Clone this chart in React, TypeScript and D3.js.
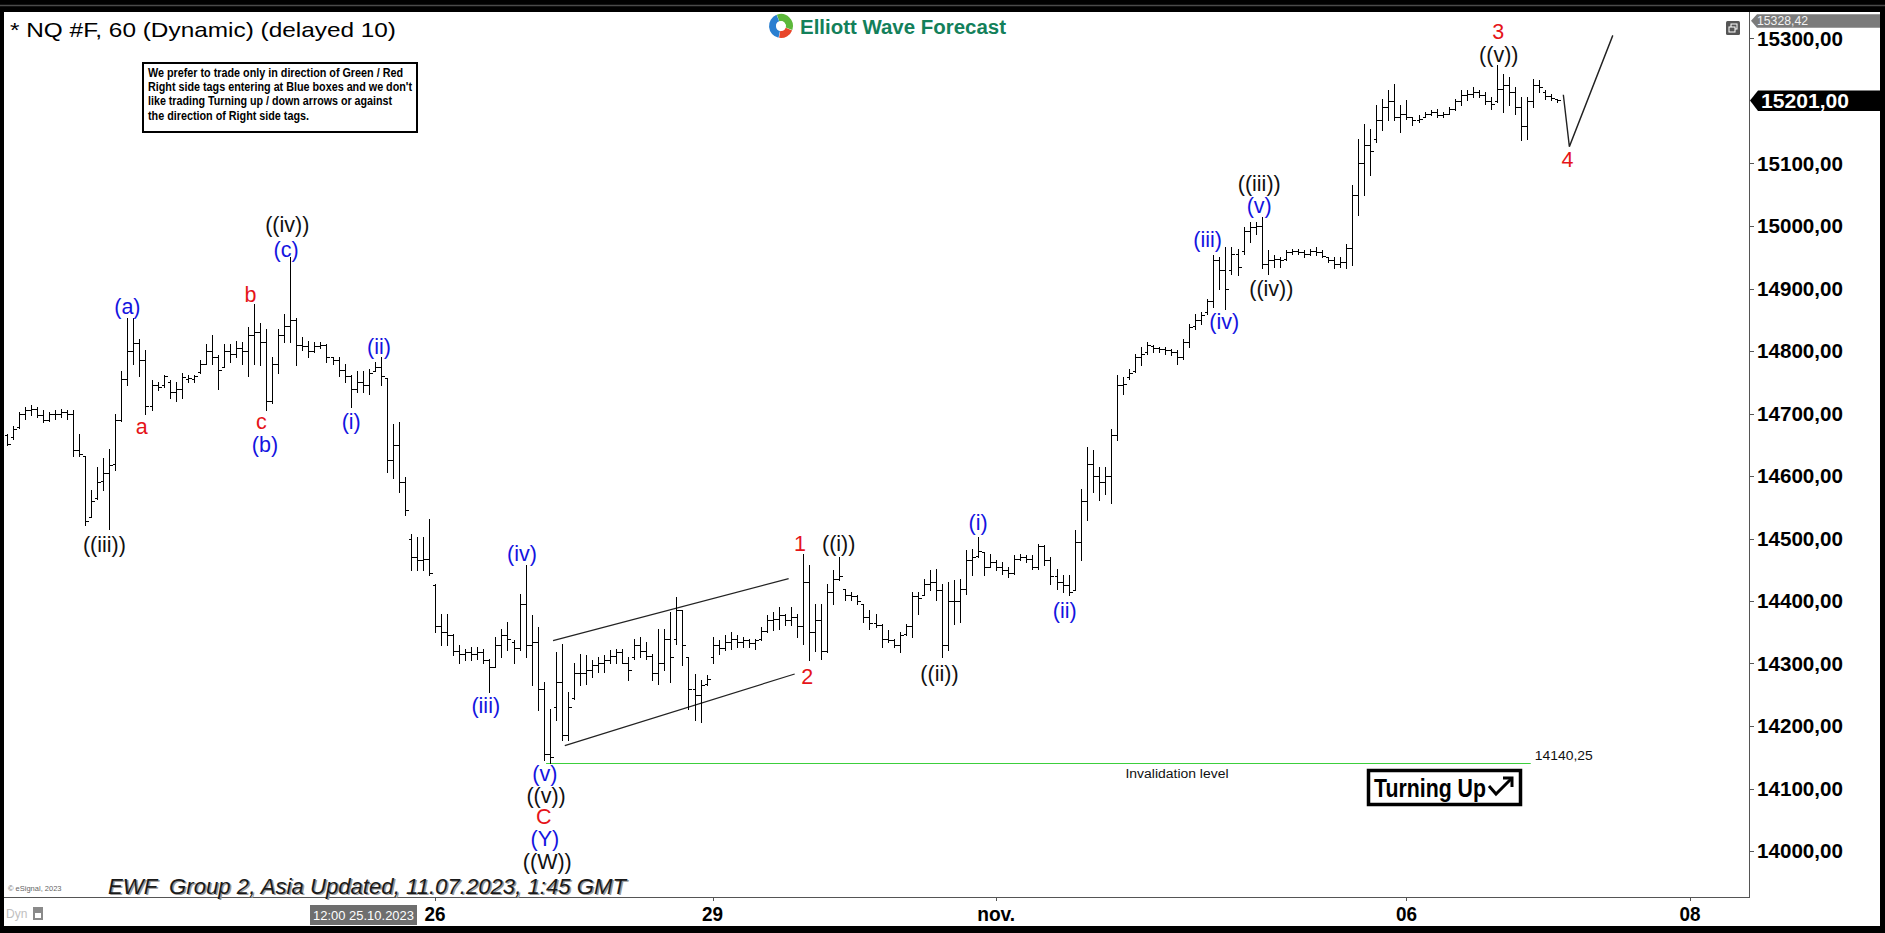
import React from "react";
import * as d3 from "d3";

const W = 1885;
const H = 933;

// ---- hourly OHLC bars (NQ #F, 60 min) ----
const HIGH = [
  14668, 14680, 14703, 14711, 14714, 14711, 14705, 14703, 14705, 14708,
  14705, 14705, 14668, 14632, 14578, 14615, 14629, 14643, 14700, 14768,
  14853, 14853, 14819, 14802, 14754, 14751, 14762, 14754, 14751, 14765,
  14762, 14762, 14785, 14811, 14825, 14794, 14811, 14811, 14816, 14814,
  14839, 14876, 14845, 14836, 14791, 14836, 14859, 14950, 14853, 14822,
  14816, 14814, 14814, 14811, 14791, 14791, 14779, 14762, 14768, 14768,
  14771, 14782, 14791, 14757, 14683, 14686, 14598, 14508, 14503, 14503,
  14532, 14428, 14380, 14380, 14348, 14330, 14324, 14327, 14327, 14324,
  14308, 14343, 14356, 14367, 14338, 14412, 14458, 14378, 14359, 14271,
  14228, 14319, 14332, 14255, 14300, 14316, 14314, 14306, 14311, 14314,
  14322, 14324, 14324, 14311, 14340, 14343, 14335, 14316, 14356, 14356,
  14383, 14407, 14386, 14311, 14284, 14274, 14282, 14343, 14338, 14346,
  14351, 14346, 14343, 14340, 14340, 14359, 14378, 14383, 14391, 14380,
  14391, 14380, 14476, 14458, 14396, 14396, 14428, 14450, 14471, 14420,
  14415, 14410, 14396, 14386, 14380, 14364, 14354, 14340, 14351, 14364,
  14415, 14415, 14436, 14450, 14452, 14428, 14431, 14434, 14436, 14482,
  14484, 14503, 14479, 14476, 14466, 14463, 14455, 14474, 14476, 14474,
  14474, 14492, 14490, 14471, 14452, 14442, 14442, 14514, 14580, 14647,
  14642, 14615, 14615, 14676, 14762, 14759, 14772, 14796, 14807, 14815,
  14810, 14807, 14807, 14804, 14802, 14820, 14844, 14860, 14863, 14884,
  14954, 14951, 14967, 14967, 14964, 14999, 15007, 15007, 15015, 14962,
  14954, 14951, 14962, 14964, 14964, 14962, 14964, 14967, 14962, 14951,
  14951, 14951, 14972, 15066, 15140, 15164, 15156, 15194, 15204, 15218,
  15228, 15194, 15202, 15175, 15178, 15183, 15186, 15188, 15183, 15191,
  15204, 15218, 15218, 15223, 15218, 15215, 15207, 15258, 15244, 15239,
  15223, 15207, 15207, 15236, 15234, 15218, 15212, 15204,
];
const LOW = [
  14649, 14660, 14677, 14691, 14697, 14694, 14686, 14688, 14691, 14694,
  14691, 14632, 14632, 14521, 14535, 14563, 14578, 14515, 14609, 14688,
  14745, 14779, 14760, 14700, 14706, 14737, 14742, 14725, 14720, 14725,
  14751, 14751, 14765, 14779, 14779, 14740, 14774, 14782, 14791, 14779,
  14760, 14779, 14777, 14705, 14717, 14765, 14814, 14814, 14777, 14802,
  14791, 14799, 14805, 14782, 14779, 14760, 14751, 14711, 14734, 14734,
  14731, 14768, 14745, 14606, 14597, 14575, 14538, 14450, 14450, 14450,
  14442, 14351, 14330, 14330, 14314, 14300, 14306, 14306, 14308, 14300,
  14255, 14295, 14311, 14322, 14300, 14322, 14311, 14266, 14226, 14146,
  14140.25, 14210, 14178, 14178, 14244, 14266, 14268, 14279, 14287, 14287,
  14300, 14300, 14300, 14274, 14308, 14311, 14308, 14274, 14268, 14290,
  14271, 14332, 14298, 14228, 14210, 14207, 14266, 14300, 14316, 14322,
  14324, 14327, 14327, 14327, 14324, 14338, 14351, 14354, 14356, 14362,
  14362, 14343, 14332, 14306, 14320, 14307, 14319, 14396, 14434, 14402,
  14402, 14396, 14367, 14356, 14359, 14327, 14335, 14327, 14319, 14346,
  14343, 14380, 14410, 14418, 14402, 14311, 14322, 14364, 14367, 14412,
  14442, 14471, 14442, 14455, 14450, 14444, 14439, 14444, 14466, 14463,
  14452, 14452, 14458, 14428, 14420, 14415, 14410, 14418, 14466, 14530,
  14575, 14562, 14572, 14556, 14658, 14732, 14756, 14767, 14778, 14796,
  14799, 14799, 14796, 14794, 14780, 14788, 14807, 14836, 14844, 14860,
  14871, 14900, 14868, 14924, 14922, 14956, 14975, 14988, 14932, 14924,
  14935, 14935, 14946, 14956, 14956, 14951, 14954, 14954, 14951, 14943,
  14932, 14935, 14932, 14938, 15018, 15050, 15082, 15135, 15154, 15170,
  15170, 15151, 15172, 15162, 15167, 15175, 15178, 15175, 15175, 15180,
  15186, 15194, 15202, 15207, 15207, 15196, 15188, 15199, 15183, 15194,
  15180, 15138, 15140, 15191, 15215, 15204, 15202, 15199,
];
const OPEN = [
  14665, 14662, 14678, 14700, 14705, 14708, 14697, 14690, 14699, 14700,
  14703, 14700, 14642, 14635, 14535, 14565, 14592, 14605, 14620, 14690,
  14755, 14800, 14812, 14785, 14712, 14745, 14745, 14750, 14735, 14740,
  14755, 14756, 14766, 14780, 14800, 14790, 14775, 14800, 14795, 14805,
  14800, 14825, 14830, 14815, 14720, 14780, 14825, 14840, 14850, 14810,
  14808, 14800, 14808, 14810, 14790, 14785, 14770, 14760, 14740, 14750,
  14745, 14768, 14775, 14757, 14625, 14650, 14590, 14500, 14470, 14465,
  14468, 14425, 14360, 14350, 14345, 14320, 14315, 14318, 14315, 14318,
  14305, 14295, 14330, 14345, 14335, 14325, 14395, 14330, 14335, 14260,
  14155, 14230, 14270, 14185, 14245, 14285, 14285, 14290, 14298, 14300,
  14305, 14312, 14318, 14300, 14310, 14330, 14320, 14312, 14285, 14300,
  14340, 14340, 14385, 14311, 14260, 14250, 14268, 14310, 14330, 14325,
  14335, 14340, 14335, 14337, 14333, 14340, 14352, 14370, 14372, 14378,
  14370, 14375, 14360, 14430, 14350, 14370, 14320, 14415, 14435, 14420,
  14410, 14408, 14396, 14375, 14365, 14362, 14340, 14338, 14330, 14348,
  14360, 14408, 14410, 14428, 14430, 14418, 14330, 14400, 14400, 14420,
  14465, 14472, 14479, 14455, 14462, 14455, 14450, 14445, 14468, 14470,
  14468, 14455, 14488, 14465, 14440, 14430, 14425, 14418, 14495, 14560,
  14620, 14600, 14590, 14600, 14665, 14745, 14758, 14768, 14790, 14798,
  14808, 14805, 14803, 14802, 14798, 14790, 14815, 14840, 14850, 14862,
  14880, 14945, 14930, 14930, 14955, 14960, 14992, 14998, 15000, 14940,
  14945, 14948, 14948, 14958, 14960, 14958, 14955, 14960, 14958, 14950,
  14945, 14940, 14942, 14965, 15050, 15100, 15130, 15140, 15170, 15190,
  15200, 15175, 15180, 15175, 15170, 15175, 15180, 15182, 15178, 15180,
  15188, 15200, 15210, 15212, 15215, 15210, 15200, 15200, 15220, 15225,
  15215, 15190, 15160, 15200, 15225, 15215, 15208, 15205,
];
const CLOSE = [
  14652, 14676, 14700, 14705, 14708, 14697, 14690, 14699, 14700, 14703,
  14700, 14642, 14635, 14528, 14560, 14590, 14605, 14618, 14690, 14755,
  14800, 14812, 14785, 14712, 14745, 14742, 14760, 14735, 14740, 14758,
  14757, 14760, 14780, 14800, 14790, 14770, 14800, 14795, 14805, 14800,
  14825, 14830, 14815, 14720, 14780, 14825, 14840, 14850, 14810, 14808,
  14800, 14808, 14810, 14790, 14785, 14770, 14760, 14740, 14750, 14745,
  14765, 14775, 14760, 14625, 14650, 14590, 14545, 14470, 14465, 14468,
  14445, 14360, 14350, 14345, 14320, 14315, 14318, 14315, 14318, 14305,
  14295, 14330, 14345, 14340, 14325, 14395, 14330, 14335, 14260, 14155,
  14150, 14270, 14185, 14230, 14285, 14285, 14290, 14298, 14300, 14305,
  14312, 14318, 14300, 14290, 14330, 14320, 14312, 14285, 14300, 14340,
  14310, 14385, 14330, 14260, 14250, 14265, 14275, 14330, 14325, 14335,
  14340, 14335, 14337, 14333, 14338, 14352, 14370, 14372, 14378, 14370,
  14375, 14360, 14430, 14350, 14370, 14320, 14415, 14435, 14440, 14410,
  14408, 14400, 14375, 14365, 14362, 14340, 14338, 14330, 14345, 14360,
  14408, 14405, 14428, 14430, 14418, 14330, 14400, 14400, 14420, 14465,
  14470, 14480, 14455, 14462, 14455, 14450, 14445, 14468, 14470, 14468,
  14455, 14488, 14465, 14440, 14430, 14425, 14415, 14495, 14560, 14620,
  14600, 14590, 14600, 14665, 14745, 14748, 14765, 14790, 14795, 14810,
  14805, 14803, 14802, 14798, 14790, 14815, 14838, 14850, 14858, 14880,
  14945, 14930, 14900, 14955, 14935, 14992, 14998, 15000, 14940, 14945,
  14948, 14945, 14958, 14960, 14958, 14955, 14960, 14958, 14952, 14945,
  14940, 14942, 14965, 15050, 15100, 15130, 15120, 15170, 15190, 15200,
  15175, 15180, 15175, 15170, 15172, 15180, 15182, 15178, 15180, 15188,
  15200, 15210, 15212, 15215, 15210, 15200, 15195, 15220, 15225, 15215,
  15190, 15160, 15200, 15225, 15222, 15208, 15205, 15201,
];

// ---- axes ----
const PRICE_TICKS = [14000, 14100, 14200, 14300, 14400, 14500, 14600, 14700, 14800, 14900, 15000, 15100, 15300];
const DATE_TICK_INDEX = [71, 117, 164, 232, 279];
const DATE_TICK_LABELS = ["26", "29", "nov.", "06", "08"];
const LAST_PRICE = 15201;
const TOP_MARK_PRICE = 15328.42;

// ---- annotations ----
const INVALIDATION = 14140.25;
const INVALIDATION_FROM = 89.4;
const INVALIDATION_TO = 252.6;
const CHANNEL_UPPER: [number, number][] = [[90.55, 14336.5], [129.6, 14435.7]];
const CHANNEL_LOWER: [number, number][] = [[92.5, 14168.5], [130.6, 14283.2]];
const PROJECTION: [number, number][] = [[258, 15210], [259, 15127], [266.2, 15305]];

const WAVE_TEXT = ["((iii))", "(a)", "a", "b", "c", "(b)", "((iv))", "(c)", "(i)", "(ii)", "(iii)", "(iv)", "(v)", "((v))", "C", "(Y)", "((W))", "1", "((i))", "2", "((ii))", "(i)", "(ii)", "(iii)", "(iv)", "((iii))", "(v)", "((iv))", "((v))", "3", "4"];
const WAVE_INDEX = [16.2, 20.0, 22.4, 40.4, 42.2, 42.8, 46.5, 46.3, 57.1, 61.7, 79.4, 85.4, 89.2, 89.4, 89.0, 89.2, 89.6, 131.5, 137.9, 132.7, 154.6, 161.0, 175.35, 199.05, 201.8, 207.6, 207.6, 209.6, 247.3, 247.2, 258.7];
const WAVE_PRICE = [14490, 14871, 14679, 14890, 14687, 14650, 15002, 14962, 14686, 14806, 14232, 14475, 14123, 14088, 14054, 14020, 13983, 14492, 14492, 14279, 14284, 14525, 14384, 14977, 14846, 15067, 15032, 14900, 15274, 15310, 15106];
const WAVE_COLOR = ["k", "b", "r", "r", "r", "b", "k", "b", "b", "b", "b", "b", "b", "k", "r", "b", "k", "r", "k", "r", "k", "b", "b", "b", "b", "k", "b", "k", "k", "r", "r"];

const NOTE_LINES = [
  "We prefer to trade only in direction of Green / Red",
  "Right side tags entering at Blue boxes and we don't",
  "like trading Turning up / down arrows or against",
  "the direction of Right side tags.",
];
const NOTE_WIDTHS = [255, 264, 244, 161];

const COLORS: Record<string, string> = { k: "#111111", b: "#1414e0", r: "#e51419" };
const SANS = "'Liberation Sans', Arial, Helvetica, sans-serif";
const NARROW = "'Liberation Sans Narrow', 'Arial Narrow', 'Liberation Sans', Arial, sans-serif";

const PLOT = { left: 4, right: 1749, top: 12, bottom: 897 };

const fmt = (v: number) => v.toFixed(2).replace(".", ",");

export default function App() {
  const x = d3.scaleLinear().domain([0, 257]).range([6.7, 1557.3]);
  const y = d3.scaleLinear().domain([14000, 15000]).range([851, 226]);
  const px = (i: number) => Math.round(x(i)) + 0.5;
  const py = (p: number) => Math.round(y(p)) + 0.5;

  let barsPath = "";
  HIGH.forEach((hi, i) => {
    const lo = LOW[i];
    const o = Math.min(hi, Math.max(lo, OPEN[i]));
    const c = Math.min(hi, Math.max(lo, CLOSE[i]));
    const xi = px(i);
    const yh = Math.round(y(hi));
    const yl = Math.round(y(lo)) + 1;
    barsPath += `M${xi},${yh}V${yl}M${xi - 3},${py(o)}H${xi}M${xi},${py(c)}H${xi + 3}`;
  });

  const line = d3.line<[number, number]>().x((d) => x(d[0])).y((d) => y(d[1]));

  const yLast = y(LAST_PRICE);
  const yTop = y(TOP_MARK_PRICE);

  const arc = d3.arc<any>();
  const logoArcs = [
    { s: -0.35, e: 1.9, col: "#5cb83a" },
    { s: 1.95, e: 3.3, col: "#e8462a" },
    { s: 3.35, e: 5.9, col: "#2a7fd0" },
  ];

  return (
    <svg
      width={W}
      height={H}
      viewBox={`0 0 ${W} ${H}`}
      style={{ position: "absolute", left: 0, top: 0, display: "block" }}
      xmlns="http://www.w3.org/2000/svg"
    >
      {/* frame */}
      <rect x={0} y={0} width={W} height={H} fill="#000" />
      <line x1={0} x2={W} y1={5.5} y2={5.5} stroke="#4a4a4a" strokeWidth={1.5} />
      <rect x={4} y={12} width={1876} height={914} fill="#fff" />

      {/* plot borders */}
      <line x1={PLOT.right + 0.5} x2={PLOT.right + 0.5} y1={PLOT.top} y2={PLOT.bottom} stroke="#555" strokeWidth={1} />
      <line x1={PLOT.left} x2={PLOT.right + 1} y1={PLOT.bottom + 0.5} y2={PLOT.bottom + 0.5} stroke="#555" strokeWidth={1} />

      {/* title */}
      <text x={10} y={37} fontFamily={SANS} fontSize={21} fill="#000" textLength={386} lengthAdjust="spacingAndGlyphs">
        * NQ #F, 60 (Dynamic) (delayed 10)
      </text>

      {/* note box */}
      <rect x={143} y={63} width={274} height={69} fill="#fff" stroke="#000" strokeWidth={2} />
      {NOTE_LINES.map((t, k) => (
        <text key={k} x={148} y={76.5 + k * 14.4} fontFamily={NARROW} fontWeight="bold" fontSize={12} fill="#000" textLength={NOTE_WIDTHS[k]} lengthAdjust="spacingAndGlyphs">
          {t}
        </text>
      ))}

      {/* logo */}
      <g transform="translate(781,26)">
        {logoArcs.map((a, k) => (
          <path key={k} d={arc({ innerRadius: 5, outerRadius: 12, startAngle: a.s, endAngle: a.e }) as string} fill={a.col} />
        ))}
        <circle r={4.5} fill="#fff" />
      </g>
      <text x={800} y={33.5} fontFamily={SANS} fontWeight="bold" fontSize={20} fill="#13805a" textLength={206} lengthAdjust="spacingAndGlyphs">
        Elliott Wave Forecast
      </text>

      {/* small window icon */}
      <rect x={1726} y={21} width={14} height={14} rx={1.5} fill="#555" />
      <rect x={1731} y={24} width={6} height={5} fill="none" stroke="#fff" strokeWidth={1} />
      <rect x={1729} y={27} width={6} height={5} fill="#555" stroke="#fff" strokeWidth={1} />

      {/* invalidation level */}
      <line x1={x(INVALIDATION_FROM)} x2={x(INVALIDATION_TO)} y1={py(INVALIDATION)} y2={py(INVALIDATION)} stroke="#3ccf3c" strokeWidth={1.2} />
      <text x={x(INVALIDATION_TO) + 4} y={y(INVALIDATION) - 3} fontFamily={SANS} fontSize={13.5} fill="#111" textLength={58} lengthAdjust="spacingAndGlyphs">
        {fmt(INVALIDATION)}
      </text>
      <text x={1177} y={777.5} textAnchor="middle" fontFamily={SANS} fontSize={12.5} fill="#111" textLength={103} lengthAdjust="spacingAndGlyphs">
        Invalidation level
      </text>

      {/* channel */}
      <path d={line(CHANNEL_UPPER) as string} stroke="#222" strokeWidth={1.2} fill="none" />
      <path d={line(CHANNEL_LOWER) as string} stroke="#222" strokeWidth={1.2} fill="none" />

      {/* OHLC bars */}
      <path d={barsPath} stroke="#000" strokeWidth={1} fill="none" shapeRendering="crispEdges" />

      {/* projection */}
      <path d={line(PROJECTION) as string} stroke="#222" strokeWidth={1.4} fill="none" />

      {/* wave labels */}
      {WAVE_TEXT.map((t, k) => (
        <text key={k} x={x(WAVE_INDEX[k])} y={y(WAVE_PRICE[k])} textAnchor="middle" dominantBaseline="central" fontFamily={SANS} fontSize={21.5} fill={COLORS[WAVE_COLOR[k]]}>
          {t}
        </text>
      ))}

      {/* Turning up box */}
      <rect x={1368.5} y={770.5} width={152} height={34} fill="#fff" stroke="#000" strokeWidth={3.5} />
      <text x={1374} y={797} fontFamily={NARROW} fontWeight="bold" fontSize={26} fill="#000" textLength={112} lengthAdjust="spacingAndGlyphs">
        Turning Up
      </text>
      <path d="M1489,786 L1496,794 L1511,779" stroke="#000" strokeWidth={3} fill="none" strokeLinejoin="miter" />
      <path d="M1503,778 L1512,778 L1512,787" stroke="#000" strokeWidth={3} fill="none" strokeLinejoin="miter" />

      {/* right axis */}
      {PRICE_TICKS.map((p) => (
        <g key={p}>
          <line x1={PLOT.right} x2={PLOT.right + 5} y1={py(p)} y2={py(p)} stroke="#555" strokeWidth={1} />
          <text x={1757} y={y(p)} dominantBaseline="central" fontFamily={SANS} fontWeight="bold" fontSize={20} fill="#000" textLength={86} lengthAdjust="spacingAndGlyphs">
            {fmt(p)}
          </text>
        </g>
      ))}
      <path d={`M${PLOT.right + 2},${yTop} L${PLOT.right + 8},${yTop - 6.5} H1880 V${yTop + 7} H${PLOT.right + 8} Z`} fill="#7b7b7b" />
      <text x={1757} y={yTop + 0.5} dominantBaseline="central" fontFamily={SANS} fontSize={12.5} fill="#f2f2f2" textLength={51} lengthAdjust="spacingAndGlyphs">
        {fmt(TOP_MARK_PRICE)}
      </text>
      <path d={`M${PLOT.right + 1},${yLast} L${PLOT.right + 9},${yLast - 10} H1880 V${yLast + 10.5} H${PLOT.right + 9} Z`} fill="#000" />
      <text x={1761} y={yLast + 0.5} dominantBaseline="central" fontFamily={SANS} fontWeight="bold" fontSize={20} fill="#fff" textLength={88} lengthAdjust="spacingAndGlyphs">
        {fmt(LAST_PRICE)}
      </text>

      {/* date axis */}
      {DATE_TICK_INDEX.map((i, k) => (
        <g key={k}>
          <line x1={px(i)} x2={px(i)} y1={PLOT.bottom} y2={PLOT.bottom + 4} stroke="#555" strokeWidth={1} />
          <text x={x(i)} y={921} textAnchor="middle" fontFamily={NARROW} fontWeight="bold" fontSize={21} fill="#000" textLength={DATE_TICK_LABELS[k].length > 2 ? 38 : 21} lengthAdjust="spacingAndGlyphs">
            {DATE_TICK_LABELS[k]}
          </text>
        </g>
      ))}
      <rect x={310} y={905} width={107} height={20} fill="#6e6e6e" />
      <text x={313} y={920} fontFamily={NARROW} fontSize={13} fill="#fff" textLength={101} lengthAdjust="spacingAndGlyphs">
        12:00 25.10.2023
      </text>
      <text x={6} y={918} fontFamily={NARROW} fontSize={12} fill="#c0c0c0">
        Dyn
      </text>
      <rect x={33} y={907} width={10} height={13} fill="#8a8a8a" />
      <rect x={35} y={913} width={6} height={5} fill="#fff" />

      {/* footer */}
      <text x={8} y={891} fontFamily={SANS} fontSize={7.5} fill="#666">
        © eSignal, 2023
      </text>
      <text x={109.5} y={895} fontFamily={NARROW} fontStyle="italic" fontSize={22.5} fill="#9a9a9a" textLength={518} lengthAdjust="spacingAndGlyphs" style={{ whiteSpace: "pre" }}>
        {"EWF  Group 2, Asia Updated, 11.07.2023, 1:45 GMT"}
      </text>
      <text x={108} y={893.5} fontFamily={NARROW} fontStyle="italic" fontSize={22.5} fill="#1a1a1a" textLength={518} lengthAdjust="spacingAndGlyphs" style={{ whiteSpace: "pre" }}>
        {"EWF  Group 2, Asia Updated, 11.07.2023, 1:45 GMT"}
      </text>
    </svg>
  );
}
